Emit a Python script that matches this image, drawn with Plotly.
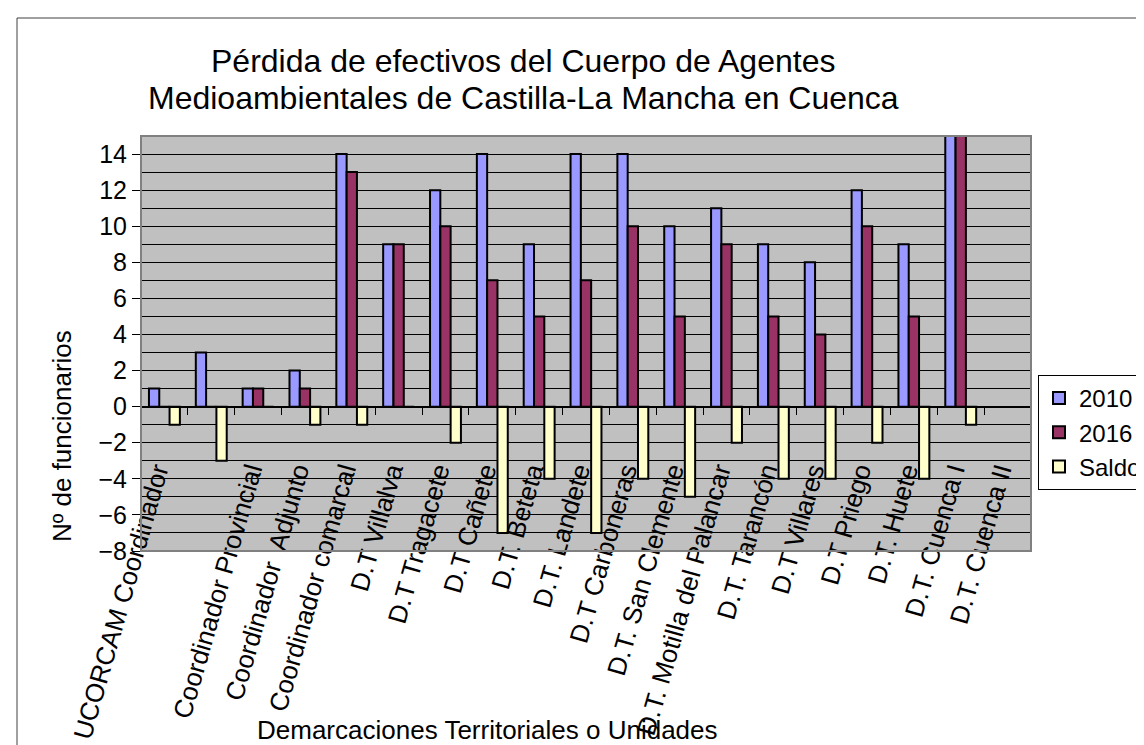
import plotly.graph_objects as go

categories = [
    "UCORCAM Coordinador", " ", "Coordinador Provincial", "Coordinador  Adjunto",
    "Coordinador comarcal", "D.T Villalva", "D.T Tragacete", "D.T Cañete",
    "D.T. Beteta", "D.T. Landete", "D.T Carboneras", "D.T. San Clemente",
    "D.T. Motilla del Palancar", "D.T. Tarancón", "D.T Villares", "D.T Priego",
    "D.T. Huete", "D.T. Cuenca I", "D.T. Cuenca II",
]
values_2010 = [1, 3, 1, 2, 14, 9, 12, 14, 9, 14, 14, 10, 11, 9, 8, 12, 9, 16, None]
values_2016 = [0, 0, 1, 1, 13, 9, 10, 7, 5, 7, 10, 5, 9, 5, 4, 10, 5, 15, None]
values_saldo = [-1, -3, 0, -1, -1, 0, -2, -7, -4, -7, -4, -5, -2, -4, -4, -2, -4, -1, None]

y_ticks = [-8, -6, -4, -2, 0, 2, 4, 6, 8, 10, 12, 14]

FONT = "Liberation Sans, Arial, sans-serif"
W, H = 1144, 745
L, R, T, B = 133, 121, 128, 202
PW, PH = W - L - R, H - T - B
YMIN, YMAX = -8, 15


def px_x(p):
    return (p - L) / PW


def px_y(p):
    return (H - B - p) / PH


fig = go.Figure()
series = [("2010", values_2010, "#9999FF"),
          ("2016", values_2016, "#993366"),
          ("Saldo", values_saldo, "#FFFFCC")]
for name, vals, col in series:
    fig.add_trace(go.Bar(
        x=categories, y=vals, name=name,
        marker=dict(color=col, line=dict(color="black", width=2)),
    ))

fig.update_layout(
    width=W, height=H,
    margin=dict(l=L, r=R, t=T, b=B, autoexpand=False),
    paper_bgcolor="white",
    plot_bgcolor="#C0C0C0",
    barmode="group",
    bargap=0.34,
    bargroupgap=0,
    font=dict(family=FONT, color="black", size=24),
    showlegend=True,
    legend=dict(
        x=px_x(1030), xanchor="left", xref="paper",
        y=px_y(367), yanchor="top", yref="paper",
        bgcolor="white", bordercolor="black", borderwidth=1,
        font=dict(family=FONT, size=24, color="black"),
        tracegroupgap=0, itemwidth=30,
    ),
    xaxis=dict(
        type="category",
        categoryorder="array", categoryarray=categories,
        range=[-0.5, len(categories) - 0.5],
        anchor="free",
        position=(0 - YMIN) / (YMAX - YMIN),
        showgrid=False, zeroline=False,
        showline=True, linecolor="black", linewidth=1,
        ticks="outside", tickson="boundaries", ticklen=7, tickcolor="black",
        tickangle=-74,
        tickfont=dict(family=FONT, size=26, color="black"),
        ticklabelstandoff=38,
        ticklabelshift=-8,
        automargin=False,
    ),
    yaxis=dict(
        range=[YMIN, YMAX],
        tickmode="array", tickvals=y_ticks,
        ticks="outside", ticklen=8, tickcolor="black",
        showgrid=True, gridcolor="black", gridwidth=1,
        minor=dict(dtick=1, tick0=0, showgrid=True, gridcolor="black", gridwidth=1, ticks=""),
        zeroline=False,
        showline=False,
        tickfont=dict(family=FONT, size=25, color="black"),
        automargin=False,
    ),
    shapes=[
        dict(type="rect", xref="paper", yref="paper", x0=0, x1=1, y0=0, y1=1,
             line=dict(color="#808080", width=2), layer="above"),
        dict(type="rect", xref="paper", yref="paper",
             x0=px_x(9), x1=px_x(1200), y0=px_y(800), y1=px_y(10),
             line=dict(color="#404040", width=1), layer="above"),
    ],
    annotations=[
        dict(text="Pérdida de efectivos del Cuerpo de Agentes",
             xref="paper", yref="paper", x=px_x(515), y=px_y(53),
             xanchor="center", yanchor="middle", showarrow=False,
             font=dict(family=FONT, size=32, color="black")),
        dict(text="Medioambientales de Castilla-La Mancha en Cuenca",
             xref="paper", yref="paper", x=px_x(515), y=px_y(90),
             xanchor="center", yanchor="middle", showarrow=False,
             font=dict(family=FONT, size=32, color="black")),
        dict(text="Nº de funcionarios",
             xref="paper", yref="paper", x=px_x(54), y=px_y(428),
             xanchor="center", yanchor="middle", textangle=-90, showarrow=False,
             font=dict(family=FONT, size=26, color="black")),
        dict(text="Demarcaciones Territoriales o Unidades",
             xref="paper", yref="paper", x=px_x(479), y=px_y(722),
             xanchor="center", yanchor="middle", showarrow=False,
             font=dict(family=FONT, size=26, color="black")),
    ],
)

fig.write_html("out.html")
